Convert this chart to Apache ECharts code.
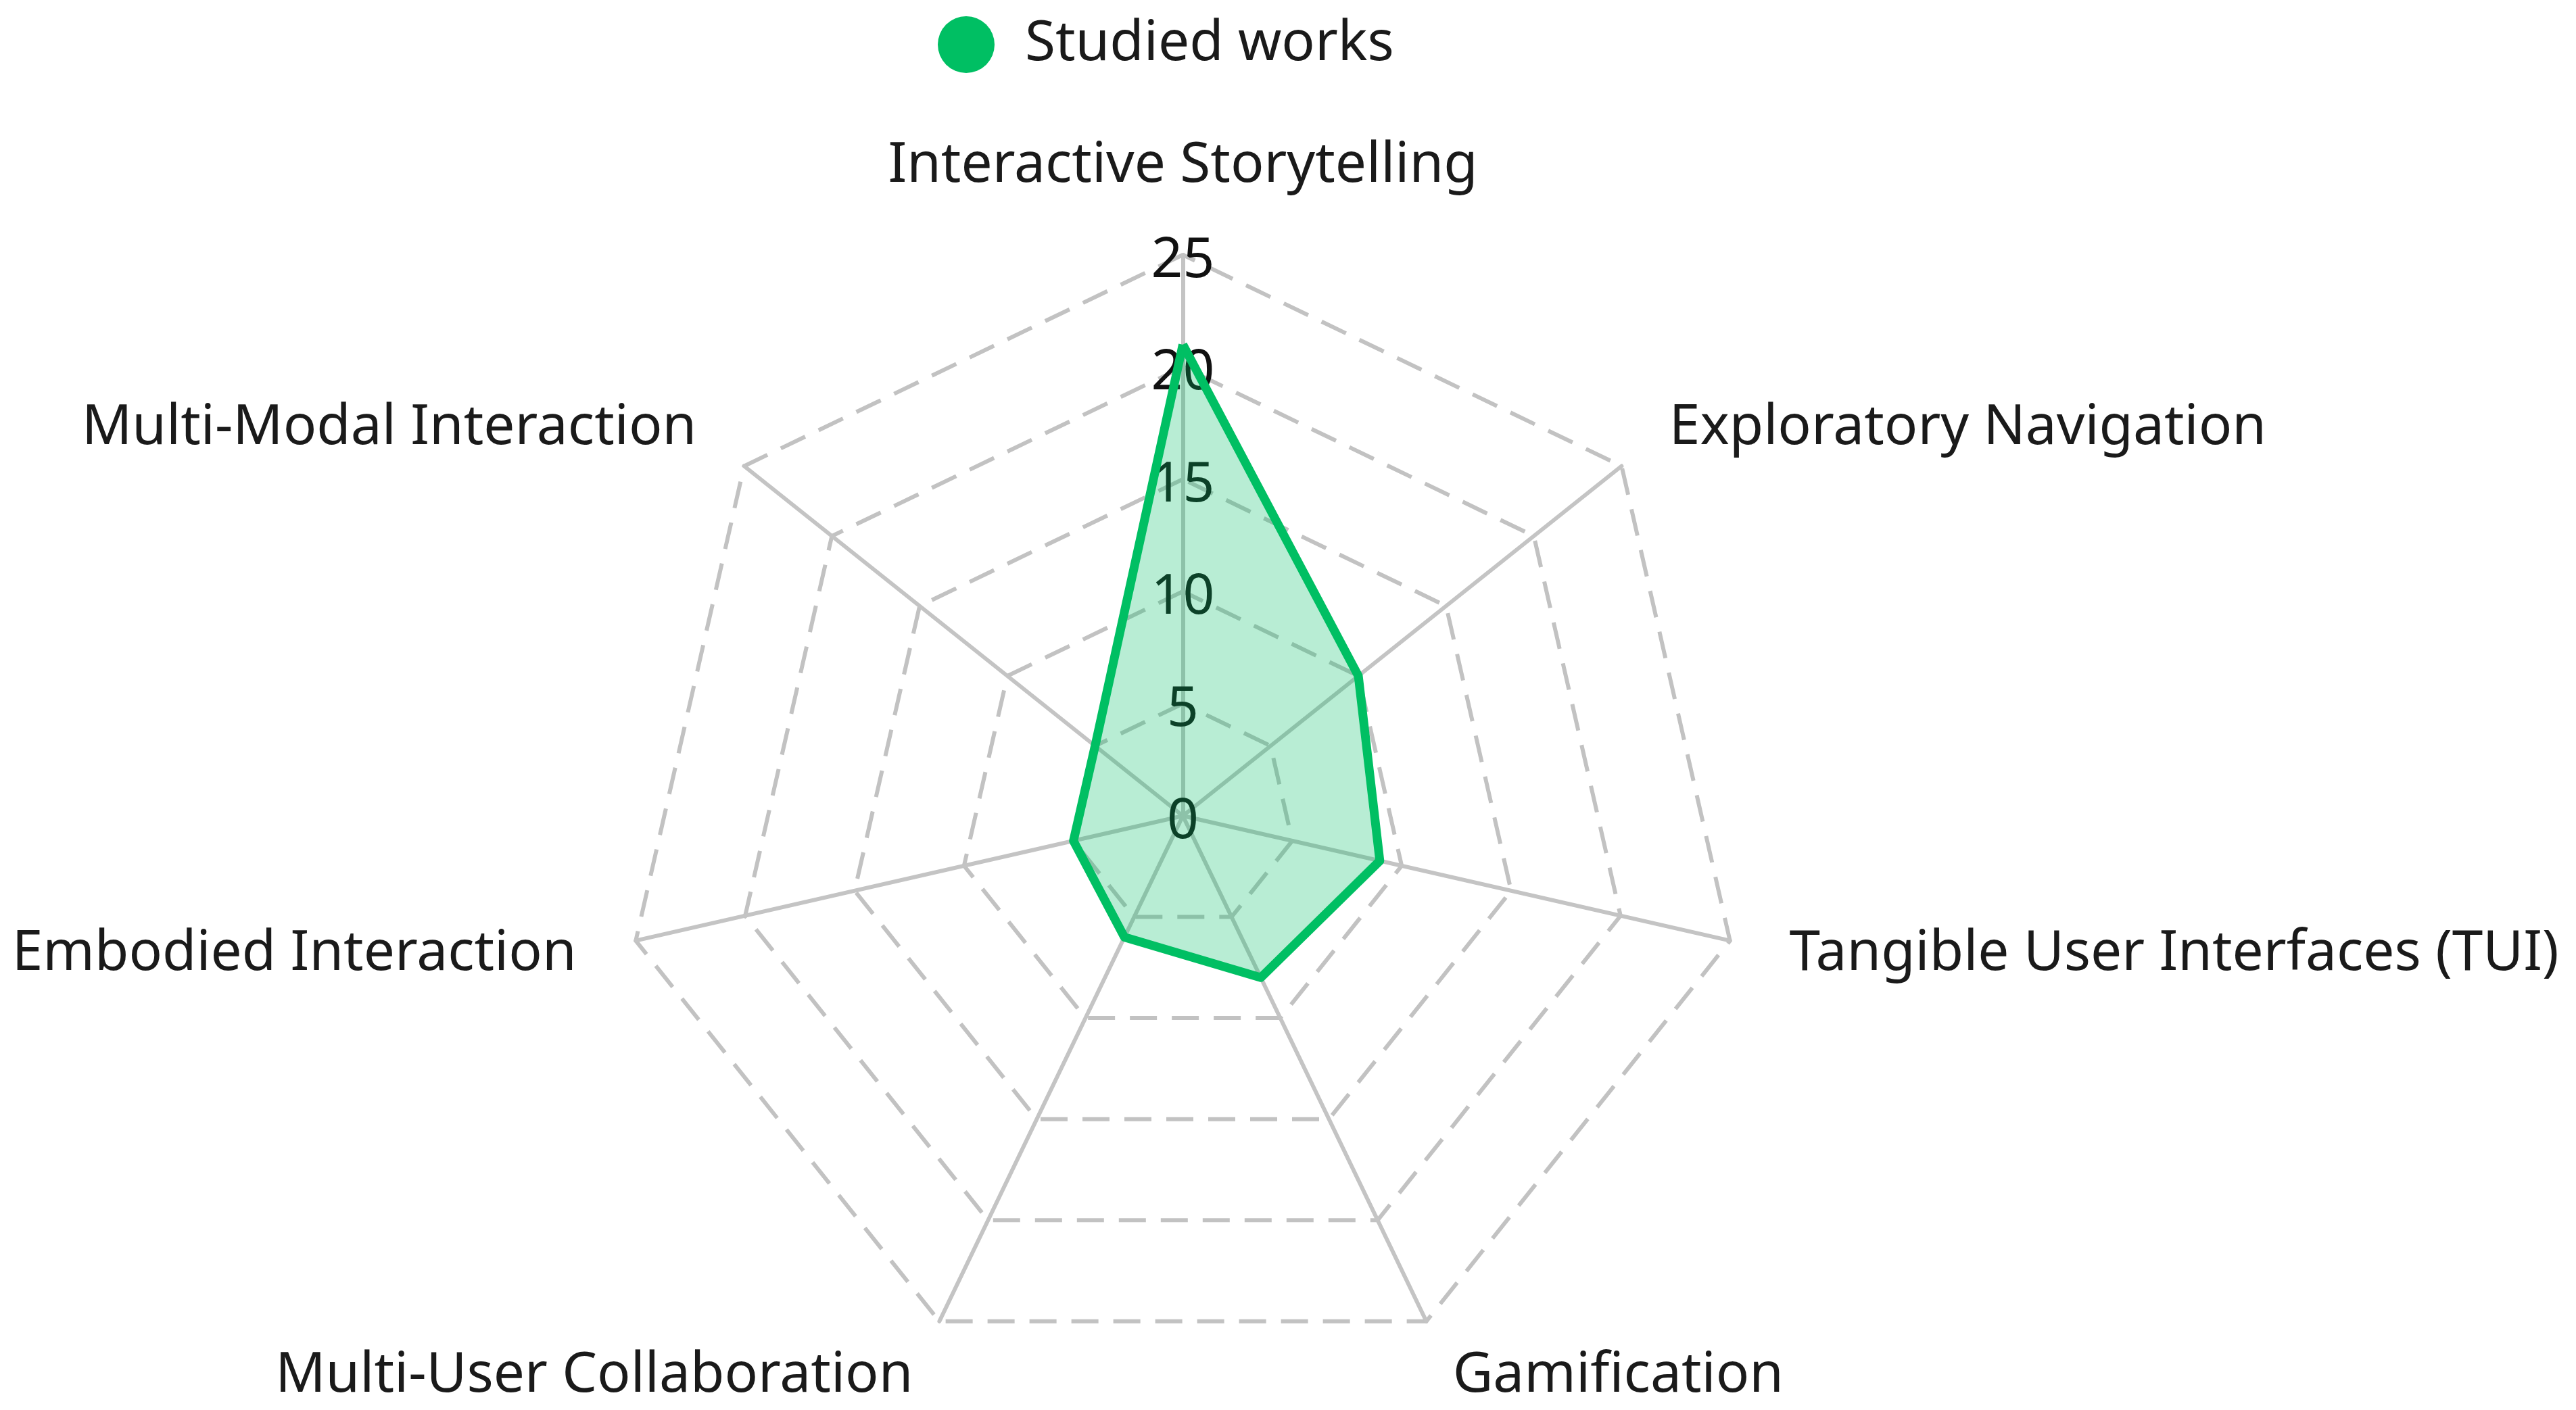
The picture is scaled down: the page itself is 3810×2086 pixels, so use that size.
<!DOCTYPE html>
<html>
<head>
<meta charset="utf-8">
<title>Studied works radar</title>
<style>
	html, body { margin: 0; padding: 0; background: #fff; }
	.radar .chart { width: 3810px; height: 2086px; }
</style>
<script src="https://cdn.jsdelivr.net/npm/echarts@6/dist/echarts.min.js"></script>
</head>
<body>
<div class="radar"><div class="chart"></div></div>
<script>
// 指标名称，按图中顺时针顺序（从顶部开始）
var indicatorNames = [
	'Interactive Storytelling',
	'Exploratory Navigation',
	'Tangible User Interfaces (TUI)',
	'Gamification',
	'Multi-User Collaboration',
	'Embodied Interaction',
	'Multi-Modal Interaction'
];
// 每个指标对应的作品数量
var studiedValues = [21, 10, 9, 8, 6, 5, 5];
var seriesName = 'Studied works';
var axisMax = 25;
var axisSplit = 5;

// 雷达图模块
(function() {
	// echarts 的雷达指标是逆时针排的，这里把除第一个外的顺序倒过来
	function toCcw(arr) {
		return [arr[0]].concat(arr.slice(1).reverse());
	}
	var names = toCcw(indicatorNames);
	var values = toCcw(studiedValues);

	// 1.实例化对象
	var myChart = echarts.init(document.querySelector('.radar .chart'));
	// 2.指定配置
	var option = {
		animation: false,
		textStyle: {
			fontFamily: 'Noto Sans'
		},
		legend: {
			data: [seriesName],
			left: 1382,
			top: 19,
			icon: 'circle',
			itemWidth: 164,
			itemHeight: 84,
			textStyle: {
				color: '#1a1a1a',
				fontSize: 82,
				fontFamily: 'Noto Sans'
			}
		},
		radar: {
			center: [1749.5, 1207],
			radius: 830,
			shape: 'polygon',
			splitNumber: axisSplit,
			nameGap: 90,
			indicator: names.map(function(n, i) {
				var item = { name: n, min: 0, max: axisMax };
				// 只在第一个轴上显示刻度
				if (i === 0) {
					item.axisLabel = { show: true };
				}
				return item;
			}),
			axisName: {
				color: '#1a1a1a',
				fontSize: 82,
				fontFamily: 'Noto Sans'
			},
			axisLine: {
				lineStyle: {
					color: '#c4c4c4',
					width: 6
				}
			},
			splitLine: {
				lineStyle: {
					color: '#c2c2c2',
					width: 6,
					type: [40, 22]
				}
			},
			splitArea: {
				show: false
			},
			axisTick: {
				show: false
			},
			axisLabel: {
				show: false,
				margin: 0,
				align: 'center',
				verticalAlign: 'middle',
				// 刻度数字稍微往下挪一点，居中在刻度点上
				formatter: '{v|{value}}',
				rich: {
					v: {
						color: '#111',
						fontSize: 82,
						fontFamily: 'Noto Sans',
						padding: [20, 0, 0, 0]
					}
				}
			}
		},
		series: [{
			name: seriesName,
			type: 'radar',
			symbol: 'none',
			itemStyle: {
				color: '#00bf63'
			},
			lineStyle: {
				color: '#00bf63',
				width: 13
			},
			areaStyle: {
				color: 'rgba(0, 191, 99, 0.4)'
			},
			data: [{
				name: seriesName,
				value: values
			}]
		}]
	};
	// 3.把配置给实例对象
	myChart.setOption(option);
	// 4.让图表跟随屏幕自适应
	window.addEventListener('resize', function() {
		myChart.resize();
	});
})();
</script>
</body>
</html>
